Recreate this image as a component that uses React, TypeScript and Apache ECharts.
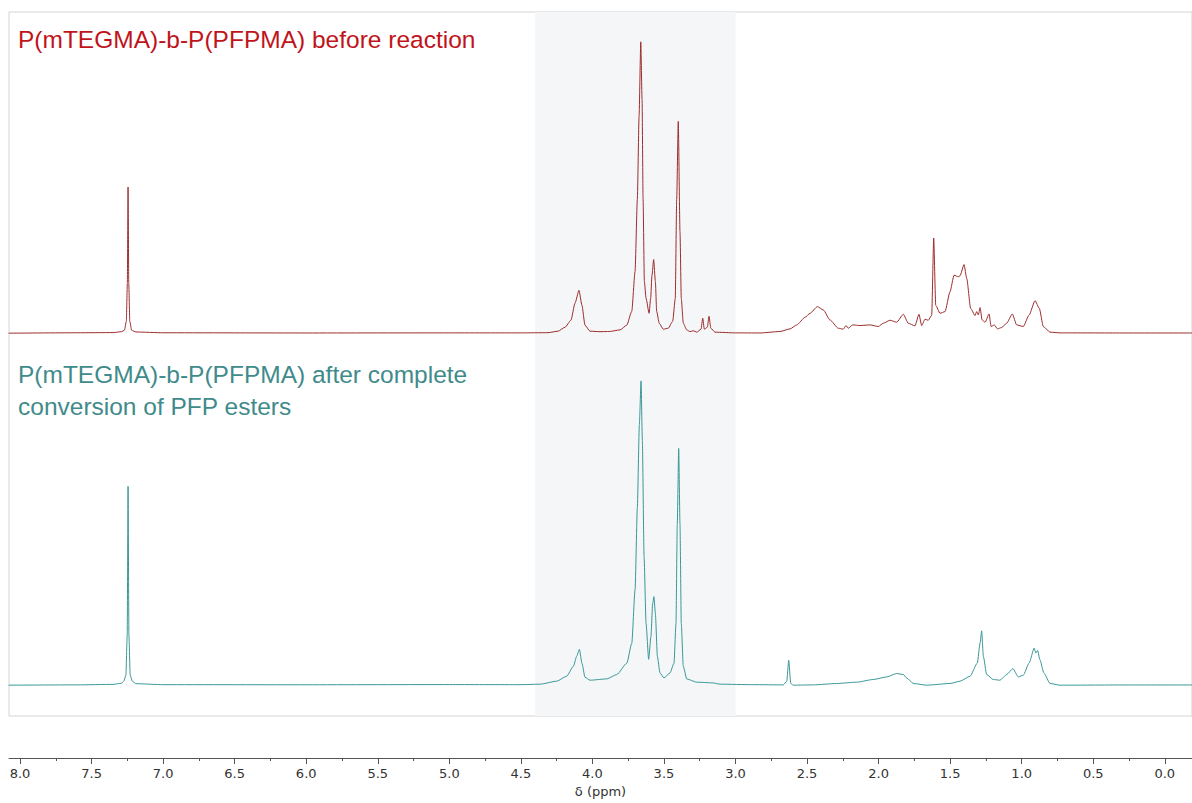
import React, { useEffect, useRef } from "react";
import * as echarts from "echarts";

// Chemical shift (ppm) vs. relative intensity
const topSpectrum: [number, number][] = [
  [8.08, 0], [7.6, 0.4], [7.35, 0.6], [7.29, 1.5], [7.27, 3], [7.257, 12], [7.25, 50], [7.245, 147], [7.24, 50], [7.233, 12], [7.22, 3], [7.19, 1.2],
  [7.0, 0.4], [6.0, 0.2], [5.0, 0.3], [4.5, 0.3], [4.31, 0.5], [4.24, 2], [4.191, 6], [4.15, 13], [4.122, 30], [4.094, 43], [4.073, 28], [4.052, 8],
  [4.017, 2], [3.947, 1.5], [3.88, 1.7], [3.807, 3.3], [3.76, 8], [3.725, 22], [3.702, 62], [3.686, 135], [3.674, 218], [3.662, 293], [3.653, 235],
  [3.646, 135], [3.637, 52], [3.625, 35], [3.604, 20], [3.593, 35], [3.584, 58], [3.572, 74], [3.56, 52], [3.551, 22], [3.533, 10], [3.505, 4],
  [3.47, 5], [3.439, 12], [3.421, 35], [3.411, 135], [3.4, 213], [3.388, 102], [3.379, 35], [3.365, 10], [3.341, 3.3], [3.318, 1.5], [3.295, 2.5],
  [3.271, 1], [3.241, 4], [3.229, 15], [3.218, 4], [3.197, 6], [3.185, 17], [3.173, 5], [3.143, 1], [3.0, 0.3], [2.829, 0.2], [2.689, 1.7],
  [2.619, 4.3], [2.572, 8.3], [2.514, 16], [2.479, 20], [2.428, 26.7], [2.386, 23.3], [2.34, 13.3], [2.282, 5], [2.247, 4], [2.228, 7.7],
  [2.212, 5], [2.181, 8.3], [2.13, 7.7], [2.06, 8.3], [2.002, 6.7], [1.967, 10], [1.92, 13], [1.874, 11], [1.827, 19], [1.793, 10], [1.746, 7.3],
  [1.718, 19], [1.699, 7.7], [1.676, 14], [1.653, 13], [1.629, 18], [1.615, 95.7], [1.601, 28], [1.571, 20], [1.536, 21.7], [1.501, 41.7],
  [1.473, 58.3], [1.443, 56.7], [1.431, 57.7], [1.403, 69], [1.384, 55], [1.357, 25], [1.326, 17.7], [1.315, 21.7], [1.303, 18.3], [1.291, 25.7],
  [1.277, 13.3], [1.256, 11], [1.228, 19.3], [1.214, 6.7], [1.191, 8.3], [1.17, 4.3], [1.14, 5.7], [1.105, 10], [1.066, 19.3], [1.035, 8.3],
  [0.989, 6.7], [0.948, 18.3], [0.907, 32.7], [0.877, 25], [0.849, 6.7], [0.802, 1], [0.732, 0.3], [0.3, 0.2], [-0.19, 0.2],
];

const bottomSpectrum: [number, number][] = [
  [8.08, 0], [7.6, 0.3], [7.35, 0.8], [7.29, 2], [7.275, 4], [7.26, 10], [7.251, 50], [7.245, 200], [7.239, 50], [7.23, 10], [7.215, 4], [7.19, 1.5],
  [7.0, 0.5], [6.0, 0.4], [5.0, 0.6], [4.506, 0.5], [4.366, 1], [4.25, 4], [4.18, 9], [4.133, 19], [4.11, 29], [4.091, 36], [4.073, 22], [4.052, 8],
  [4.017, 5], [3.9, 6.3], [3.83, 10.7], [3.76, 22], [3.725, 42], [3.702, 96], [3.686, 179], [3.672, 262], [3.66, 306], [3.651, 246], [3.639, 129],
  [3.625, 62], [3.607, 26], [3.591, 49], [3.579, 82], [3.57, 89], [3.56, 72], [3.546, 29], [3.528, 12.3], [3.5, 7.3], [3.458, 12.3], [3.43, 22],
  [3.416, 62], [3.407, 162], [3.397, 238], [3.388, 162], [3.379, 62], [3.365, 19], [3.341, 6.3], [3.271, 3], [3.159, 2.3], [3.108, 1], [2.876, 0.5],
  [2.666, 0.3], [2.642, 4], [2.628, 25], [2.614, 1.7], [2.596, 0], [2.456, 0.3], [2.293, 1.7], [2.153, 3], [2.037, 5.7], [1.943, 8.3], [1.874, 11.7],
  [1.827, 10.7], [1.804, 7.3], [1.758, 1.7], [1.664, 0], [1.501, 1.7], [1.431, 4], [1.361, 9], [1.31, 22.3], [1.291, 42.3], [1.28, 54.7],
  [1.268, 29], [1.245, 10.7], [1.199, 5.7], [1.152, 5], [1.105, 10.7], [1.062, 16.7], [1.024, 8.3], [0.989, 10], [0.948, 22.3], [0.913, 37.3],
  [0.901, 32.3], [0.889, 35], [0.873, 25.7], [0.845, 12.3], [0.802, 1.7], [0.732, 0], [0.3, 0.2], [-0.19, 0.2],
];

const majorTicks: number[] = [0, 0.5, 1, 1.5, 2, 2.5, 3, 3.5, 4, 4.5, 5, 5.5, 6, 6.5, 7, 7.5, 8];
const minorTicks: number[] = [0.25, 0.75, 1.25, 1.75, 2.25, 2.75, 3.25, 3.75, 4.25, 4.75, 5.25, 5.75, 6.25, 6.75, 7.25, 7.75];
const highlightRange: [number, number] = [4.4, 3.0];
const titleTop = "P(mTEGMA)-b-P(PFPMA) before reaction";
const titleBottom = "P(mTEGMA)-b-P(PFPMA) after complete\nconversion of PFP esters";
const axisTitle = "δ (ppm)";

const X_MIN = -0.19;
const X_MAX = 8.077;

export default function App() {
  const ref = useRef<HTMLDivElement>(null);
  useEffect(() => {
    if (!ref.current) return;
    const chart = echarts.init(ref.current, null, { renderer: "svg" });
    const baseX = {
      type: "value" as const,
      inverse: true,
      min: X_MIN,
      max: X_MAX,
      gridIndex: 0,
      position: "bottom" as const,
      offset: 42,
      splitLine: { show: false },
    };
    chart.setOption({
      animation: false,
      backgroundColor: "#ffffff",
      grid: {
        left: 9,
        right: 0,
        top: 12,
        height: 708,
        show: true,
        borderColor: "#d4d4d4",
        borderWidth: 1,
        backgroundColor: "transparent",
      },
      xAxis: [
        {
          ...baseX,
          axisLine: { show: true, onZero: false, lineStyle: { color: "#555555", width: 1 } },
          axisTick: { show: true, length: 6, customValues: majorTicks, lineStyle: { color: "#555555" } },
          axisLabel: {
            customValues: majorTicks,
            formatter: (v: number) => v.toFixed(1),
            color: "#333333",
            fontSize: 13,
            fontFamily: "DejaVu Sans",
            margin: 9,
          },
          name: axisTitle,
          nameLocation: "middle",
          nameGap: 27,
          nameTextStyle: { color: "#333333", fontSize: 13, fontFamily: "DejaVu Sans" },
        },
        {
          ...baseX,
          axisLine: { show: false, onZero: false },
          axisTick: { show: true, length: 3, customValues: minorTicks, lineStyle: { color: "#555555" } },
          axisLabel: { show: false },
        },
      ],
      yAxis: [
        { type: "value", min: -385, max: 323, show: false, gridIndex: 0 },
        { type: "value", min: -31, max: 677, show: false, gridIndex: 0 },
      ],
      graphic: [
        {
          type: "text",
          left: 18,
          top: 23,
          style: {
            text: titleTop,
            fill: "#c0141b",
            font: "24.5px 'Liberation Sans', Arial, sans-serif",
            lineHeight: 32,
          },
        },
        {
          type: "text",
          left: 18,
          top: 358,
          style: {
            text: titleBottom,
            fill: "#3f8b8b",
            font: "24.5px 'Liberation Sans', Arial, sans-serif",
            lineHeight: 32,
          },
        },
      ],
      series: [
        {
          type: "line",
          xAxisIndex: 0,
          yAxisIndex: 0,
          data: topSpectrum,
          showSymbol: false,
          silent: true,
          smooth: 0.2,
          smoothMonotone: "x",
          lineStyle: { color: "#9c2d2d", width: 1 },
          z: 3,
          markArea: {
            silent: true,
            itemStyle: { color: "#f4f6f8" },
            data: [[{ xAxis: highlightRange[0] }, { xAxis: highlightRange[1] }]],
          },
        },
        {
          type: "line",
          xAxisIndex: 0,
          yAxisIndex: 1,
          data: bottomSpectrum,
          showSymbol: false,
          silent: true,
          smooth: 0.2,
          smoothMonotone: "x",
          lineStyle: { color: "#3a9797", width: 1 },
          z: 3,
        },
      ],
    });
    return () => chart.dispose();
  }, []);
  return (
    <div
      ref={ref}
      style={{ position: "fixed", left: 0, top: 0, width: 1192, height: 803, background: "#fff" }}
    />
  );
}
